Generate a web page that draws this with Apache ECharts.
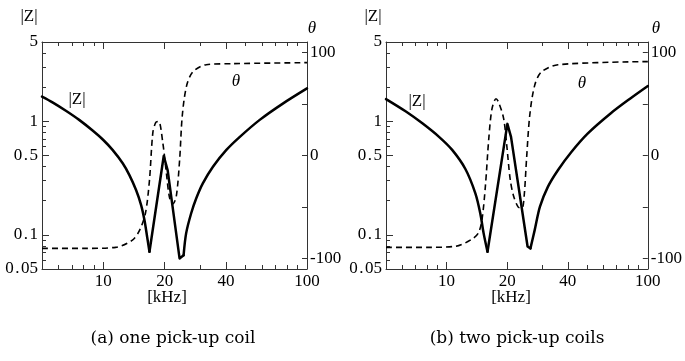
<!DOCTYPE html>
<html><head><meta charset="utf-8">
<script src="https://cdn.jsdelivr.net/npm/echarts@6/dist/echarts.min.js"></script>
<style>html,body{margin:0;padding:0;background:#fff}#c{width:685px;height:361px}</style>
</head><body><div id="c"></div>
<script>
// ---- data: panel (a) one pick-up coil ----
const zFreqA  = [5, 5.63, 6.55, 7.61, 8.86, 10, 11.1, 12.45, 13.43, 14.48, 15.33, 15.92, 16.41, 16.85, 19.8, 20.7, 23.68, 24.78, 25.5, 27.0, 28.6, 30.8, 34.6, 40.2, 46.8, 58.6, 76.4, 100];
const zValA   = [1.65, 1.47, 1.24, 1.03, 0.83, 0.685, 0.56, 0.427, 0.336, 0.248, 0.183, 0.135, 0.096, 0.071, 0.495, 0.37, 0.062, 0.066, 0.103, 0.155, 0.21, 0.284, 0.40, 0.56, 0.73, 1.03, 1.44, 1.95];
const tFreqA  = [5, 8, 11.5, 13.9, 15.1, 16.1, 16.85, 17.5, 18.1, 18.7, 19.6, 20.4, 21.1, 21.9, 22.8, 23.7, 24.4, 25.6, 27.5, 32, 43.4, 100];
const tValA   = [-90, -90, -89, -82, -72, -56, -24, 22, 32, 33, 12, -17, -40, -47, -40, -4, 38, 67, 81, 88, 89, 90];
// ---- data: panel (b) two pick-up coils ----
const zFreqB  = [5, 6.28, 7.58, 9.17, 10.66, 12.4, 13.9, 14.7, 15.28, 15.97, 20.05, 20.9, 25.26, 26.1, 27.4, 29.1, 31.9, 35.8, 41.6, 50.2, 65.5, 82.2, 100];
const zValB   = [1.57, 1.22, 0.96, 0.73, 0.56, 0.38, 0.232, 0.155, 0.103, 0.071, 0.95, 0.73, 0.079, 0.076, 0.11, 0.177, 0.266, 0.373, 0.535, 0.78, 1.18, 1.60, 2.05];
const tFreqB  = [5, 8, 11.1, 13.4, 14.4, 15.0, 15.6, 16.2, 16.8, 17.6, 18.1, 19.2, 19.9, 20.7, 21.5, 22.7, 23.7, 24.3, 24.97, 25.9, 27.4, 29.6, 35.8, 100];
const tValB   = [-89, -89, -88, -81, -75, -62, -29, 16, 45, 55, 52, 36, 10, -23, -39, -50, -51, -39, -3, 39, 68, 81, 88, 91];
// indices where the |Z| curves change from smooth branch to straight resonance segment
const zBreaksA = [13, 17];
const zBreaksB = [9, 13];
// ---- tick labels ----
const xLabels = [10, 20, 40, 100];
const xMinorTicks = [6, 7, 8, 9, 30, 50, 60, 70, 80, 90];
const yLabels = [0.05, 0.1, 0.5, 1, 5];
const yMinorTicks = [0.06, 0.07, 0.08, 0.09, 0.2, 0.3, 0.4, 0.6, 0.7, 0.8, 0.9, 2, 3, 4];
const tLabels = [-100, 0, 100];
const tMinorTicks = [-50, 50];
const captions = ['(a) one pick-up coil', '(b) two pick-up coils'];

const FONT = 'Liberation Serif';
const AX = '#333';
const grids = [
  {left: 42, top: 42, width: 265, height: 227},
  {left: 386, top: 42, width: 265, height: 227}
];
const xAxes = [], yAxes = [];
grids.forEach((g, gi) => {
  xAxes.push({type: 'log', gridIndex: gi, position: 'bottom', min: 5, max: 100,
    axisLine: {show: true, onZero: false, lineStyle: {color: AX, width: 1}},
    axisTick: {show: true, inside: true, length: 7, customValues: xLabels, lineStyle: {color: AX}},
    axisLabel: {show: true, customValues: xLabels, margin: 4, color: '#000', fontFamily: FONT, fontSize: 17, formatter: v => String(Math.round(v))},
    splitLine: {show: false}});
  xAxes.push({type: 'log', gridIndex: gi, position: 'bottom', offset: 0, min: 5, max: 100,
    axisLine: {show: false, onZero: false},
    axisTick: {show: true, inside: true, length: 4, customValues: xMinorTicks, lineStyle: {color: AX}},
    axisLabel: {show: false}, splitLine: {show: false}});
  xAxes.push({type: 'log', gridIndex: gi, position: 'top', min: 5, max: 100,
    axisLine: {show: true, onZero: false, lineStyle: {color: AX, width: 1}},
    axisTick: {show: true, inside: true, length: 7, customValues: xLabels, lineStyle: {color: AX}},
    axisLabel: {show: false}, splitLine: {show: false}});
  xAxes.push({type: 'log', gridIndex: gi, position: 'top', offset: 0, min: 5, max: 100,
    axisLine: {show: false, onZero: false},
    axisTick: {show: true, inside: true, length: 4, customValues: xMinorTicks, lineStyle: {color: AX}},
    axisLabel: {show: false}, splitLine: {show: false}});
  yAxes.push({type: 'log', gridIndex: gi, position: 'left', min: 0.05, max: 5,
    axisLine: {show: true, onZero: false, lineStyle: {color: AX, width: 1}},
    axisTick: {show: true, inside: true, length: 7, customValues: yLabels, lineStyle: {color: AX}},
    axisLabel: {show: true, customValues: yLabels, margin: 4, color: '#000', fontFamily: FONT, fontSize: 17,
      formatter: v => { const s = String(v); return s.indexOf('.') >= 0 ? s.replace('.', '{p|.}') : s; },
      rich: {p: {fontFamily: FONT, fontSize: 17, color: '#000', padding: [0, 1.5, 0, 1.5]}}},
    splitLine: {show: false}});
  yAxes.push({type: 'log', gridIndex: gi, position: 'left', offset: 0, min: 0.05, max: 5,
    axisLine: {show: false, onZero: false},
    axisTick: {show: true, inside: true, length: 4, customValues: yMinorTicks, lineStyle: {color: AX}},
    axisLabel: {show: false}, splitLine: {show: false}});
  yAxes.push({type: 'value', gridIndex: gi, position: 'right', min: -110, max: 110,
    axisLine: {show: true, onZero: false, lineStyle: {color: AX, width: 1}},
    axisTick: {show: true, inside: true, length: 5, customValues: tLabels.concat(tMinorTicks), lineStyle: {color: AX}},
    axisLabel: {show: true, customValues: tLabels, margin: 3, color: '#000', fontFamily: FONT, fontSize: 17},
    splitLine: {show: false}});
});

function pairs(xs, ys) { return xs.map((x, i) => [x, ys[i]]); }
function zSeries(xs, ys, br, xi, yi) {
  const all = pairs(xs, ys);
  const base = {type: 'line', xAxisIndex: xi, yAxisIndex: yi, symbol: 'none', lineStyle: {color: '#000', width: 2.5, join: 'round', cap: 'round'}};
  return [
    Object.assign({}, base, {data: all.slice(0, br[0] + 1), smooth: 0.3}),
    Object.assign({}, base, {data: all.slice(br[0], br[1] + 1)}),
    Object.assign({}, base, {data: all.slice(br[1]), smooth: 0.3})
  ];
}
const series = [].concat(
  zSeries(zFreqA, zValA, zBreaksA, 0, 0),
  [{type: 'line', xAxisIndex: 0, yAxisIndex: 2, data: pairs(tFreqA, tValA), symbol: 'none', smooth: 0.3, lineStyle: {color: '#000', width: 1.6, type: [6, 4]}}],
  zSeries(zFreqB, zValB, zBreaksB, 4, 3),
  [{type: 'line', xAxisIndex: 4, yAxisIndex: 5, data: pairs(tFreqB, tValB), symbol: 'none', smooth: 0.3, lineStyle: {color: '#000', width: 1.6, type: [6, 4]}}]
);

function txt(x, y, s, size, italic, font) {
  return {type: 'text', x: x, y: y, style: {text: s, fill: '#000', font: (italic ? 'italic ' : '') + size + 'px "' + (font || FONT) + '"', align: 'center', verticalAlign: 'middle'}};
}
const graphic = [];
[0, 344].forEach((dx, i) => {
  graphic.push(txt(29 + dx, 17, '|Z|', 17));
  graphic.push(txt(312 + dx, 29, 'θ', 17, true));
  graphic.push(txt(77 + dx + (i ? -4 : 0), 100 + (i ? 2 : 0), '|Z|', 17));
  graphic.push(txt(236 + dx + (i ? 2 : 0), 82 + (i ? 2 : 0), 'θ', 17, true));
  graphic.push(txt(167 + dx, 298, '[kHz]', 17));
  graphic.push(txt(173 + dx, 339, captions[i], 17, false, 'DejaVu Serif'));
});

const chart = echarts.init(document.getElementById('c'), null, {renderer: 'canvas'});
chart.setOption({animation: false, backgroundColor: '#fff', grid: grids, xAxis: xAxes, yAxis: yAxes, series: series, graphic: graphic});
</script>
</body></html>
